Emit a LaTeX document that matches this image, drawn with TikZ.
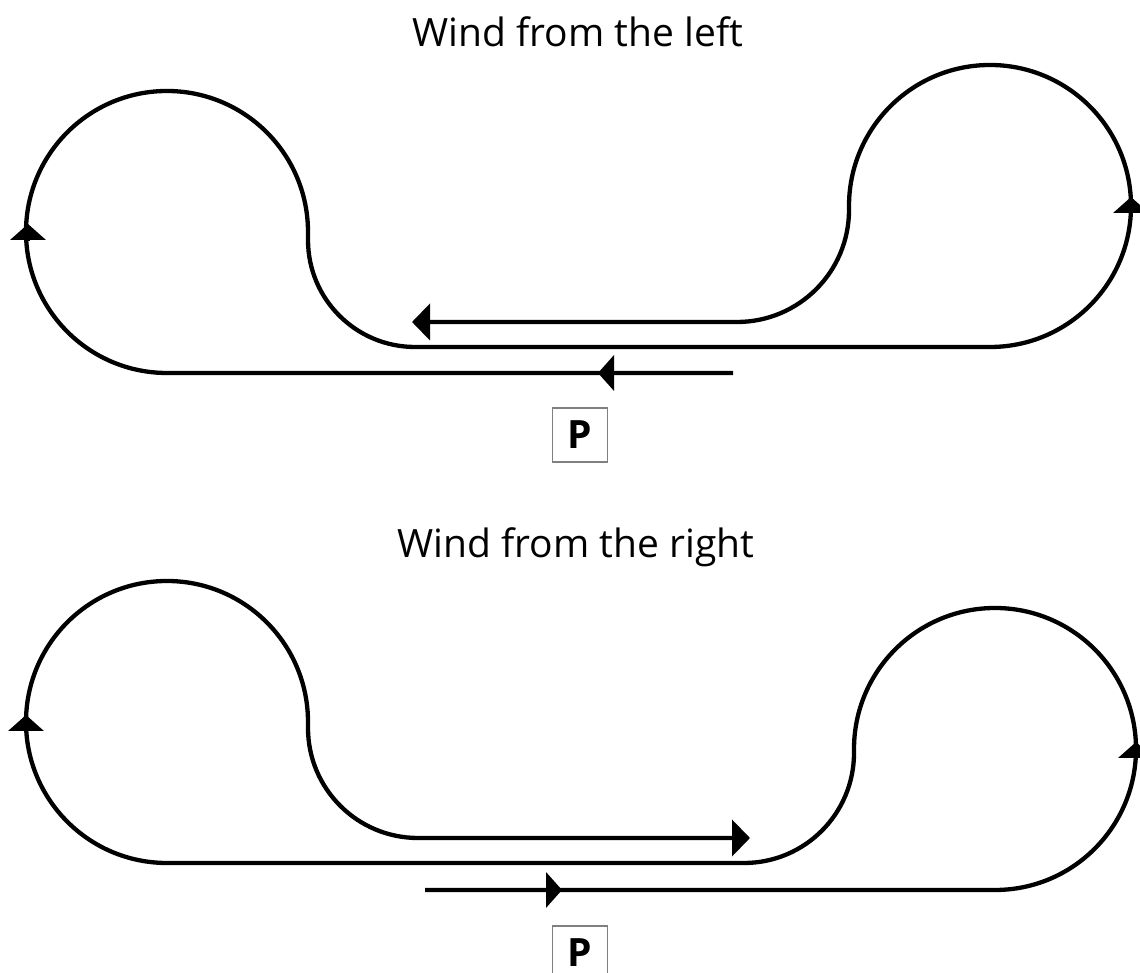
\documentclass[tikz,border=0pt]{standalone}
\usepackage{fontspec}
\setmainfont{Open Sans}
\usetikzlibrary{arrows.meta}
\definecolor{boxgray}{HTML}{808080}

\begin{document}
\begin{tikzpicture}[
  x=1pt, y=1pt,
  track/.style={line width=4.3pt, line join=round},
  endtip/.style={-{Triangle[length=18pt, width=36pt]}},
  looptip/.style={-{Triangle[length=16pt, width=35pt]}, line width=4.3pt},
  title/.style={font=\fontsize{39}{44}\selectfont, anchor=base},
  parkbox/.style={
    draw=boxgray, line width=1.2pt, minimum width=55pt, minimum height=54pt,
    inner sep=0pt, font=\fontsize{39}{40}\selectfont\bfseries
  }
]
  \useasboundingbox (0,0) rectangle (1140,973);

  % wind from the left
  \node[title] (titleL) at (578,926) {Wind from the left};
  \draw[track, endtip] (733,600) -- (167,600)
    arc[start angle=-90, end angle=-360, radius=141] -- (308,733)
    arc[start angle=180, end angle=270, radius=107] -- (990,626)
    arc[start angle=-90, end angle=180, radius=141] -- (849,763)
    arc[start angle=0, end angle=-90, radius=112] -- (412,651);
  \draw[looptip] (615,600) -- (598,600);
  \draw[looptip] (28,732) -- (28,749);
  \draw[looptip] (1131,759) -- (1131,776);
  \node[parkbox] (parkL) at (580,538) {P};

  % wind from the right
  \node[title] (titleR) at (576,415) {Wind from the right};
  \draw[track, endtip] (425,83) -- (995,83)
    arc[start angle=-90, end angle=180, radius=141] -- (854,220)
    arc[start angle=0, end angle=-90, radius=110] -- (167,110)
    arc[start angle=-90, end angle=-360, radius=141] -- (308,245)
    arc[start angle=180, end angle=270, radius=110] -- (750,135);
  \draw[looptip] (545,83) -- (562,83);
  \draw[looptip] (26,241) -- (26,258);
  \draw[looptip] (1136,214) -- (1136,231);
  \node[parkbox] (parkR) at (580,20) {P};
\end{tikzpicture}
\end{document}
